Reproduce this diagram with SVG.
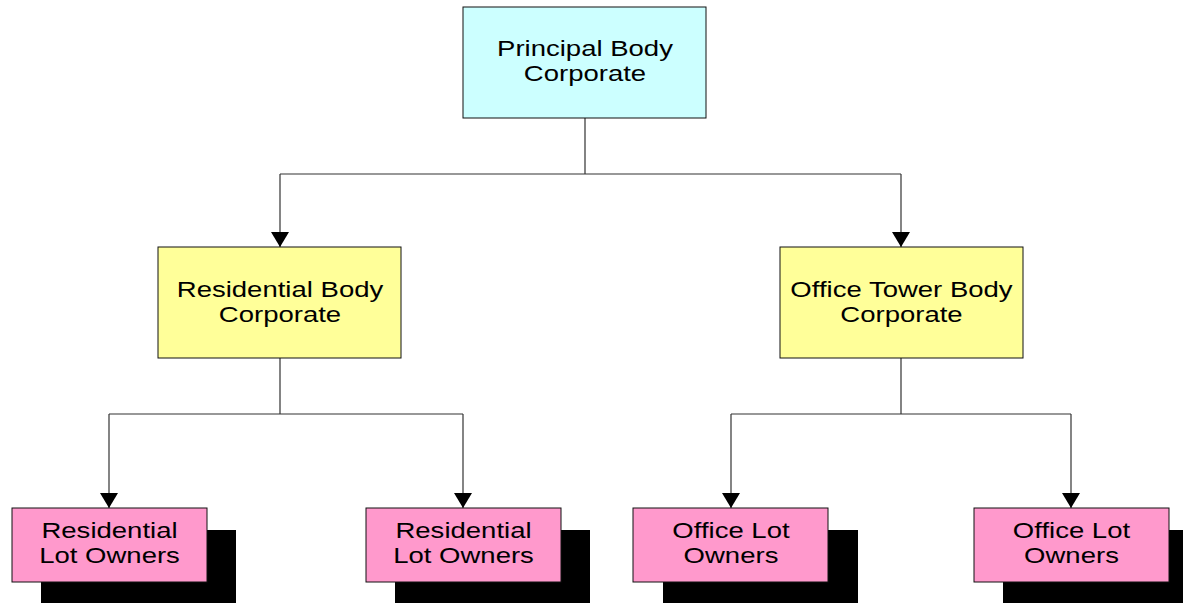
<svg xmlns="http://www.w3.org/2000/svg" width="1183" height="603" viewBox="0 0 1183 603">
<style>
.box{stroke:#111;stroke-width:1}
.top{fill:#CCFFFF}
.mid{fill:#FFFF99}
.leaf{fill:#FF99CC}
.shadow{fill:#000}
.lbl{font-family:"Liberation Sans",Arial,sans-serif;font-size:21.5px;fill:#000;text-anchor:middle}
.conn{fill:none;stroke:#333;stroke-width:1.2}
</style>
<defs>
<marker id="arr" markerUnits="userSpaceOnUse" markerWidth="15" markerHeight="18" viewBox="0 0 15 18" refX="15" refY="9" orient="auto">
<path d="M0,0 L15,9 L0,18 Z" fill="#000"/>
</marker>
</defs>
<rect width="1183" height="603" fill="#fff"/>
<g id="connectors">
<path class="conn" d="M585,118 V174 M280,174 H901"/>
<path class="conn" d="M280,174 V247" marker-end="url(#arr)"/>
<path class="conn" d="M901,174 V247" marker-end="url(#arr)"/>
<path class="conn" d="M280,358 V414 M109,414 H463"/>
<path class="conn" d="M109,414 V508" marker-end="url(#arr)"/>
<path class="conn" d="M463,414 V508" marker-end="url(#arr)"/>
<path class="conn" d="M901,358 V414 M731,414 H1071"/>
<path class="conn" d="M731,414 V508" marker-end="url(#arr)"/>
<path class="conn" d="M1071,414 V508" marker-end="url(#arr)"/>
</g>
<g id="principal">
<rect class="box top" x="463" y="7" width="243" height="111"/>
<text class="lbl" transform="translate(585,0) scale(1.28,1)"><tspan x="0" y="56">Principal Body</tspan><tspan x="0" y="81">Corporate</tspan></text>
</g>
<g id="residential-body">
<rect class="box mid" x="158" y="247" width="243" height="111"/>
<text class="lbl" transform="translate(280,0) scale(1.28,1)"><tspan x="0" y="297">Residential Body</tspan><tspan x="0" y="322">Corporate</tspan></text>
</g>
<g id="office-body">
<rect class="box mid" x="780" y="247" width="243" height="111"/>
<text class="lbl" transform="translate(901.5,0) scale(1.28,1)"><tspan x="0" y="297">Office Tower Body</tspan><tspan x="0" y="322">Corporate</tspan></text>
</g>
<g id="res-lot-1">
<rect class="shadow" x="41" y="530" width="195" height="74"/>
<rect class="box leaf" x="12" y="508" width="195" height="74"/>
<text class="lbl" transform="translate(109.5,0) scale(1.28,1)"><tspan x="0" y="538">Residential</tspan><tspan x="0" y="563">Lot Owners</tspan></text>
</g>
<g id="res-lot-2">
<rect class="shadow" x="395" y="530" width="195" height="74"/>
<rect class="box leaf" x="366" y="508" width="195" height="74"/>
<text class="lbl" transform="translate(463.5,0) scale(1.28,1)"><tspan x="0" y="538">Residential</tspan><tspan x="0" y="563">Lot Owners</tspan></text>
</g>
<g id="office-lot-1">
<rect class="shadow" x="663" y="530" width="195" height="74"/>
<rect class="box leaf" x="633" y="508" width="195" height="74"/>
<text class="lbl" transform="translate(731,0) scale(1.28,1)"><tspan x="0" y="538">Office Lot</tspan><tspan x="0" y="563">Owners</tspan></text>
</g>
<g id="office-lot-2">
<rect class="shadow" x="1003" y="530" width="195" height="74"/>
<rect class="box leaf" x="974" y="508" width="195" height="74"/>
<text class="lbl" transform="translate(1071.5,0) scale(1.28,1)"><tspan x="0" y="538">Office Lot</tspan><tspan x="0" y="563">Owners</tspan></text>
</g>
</svg>
